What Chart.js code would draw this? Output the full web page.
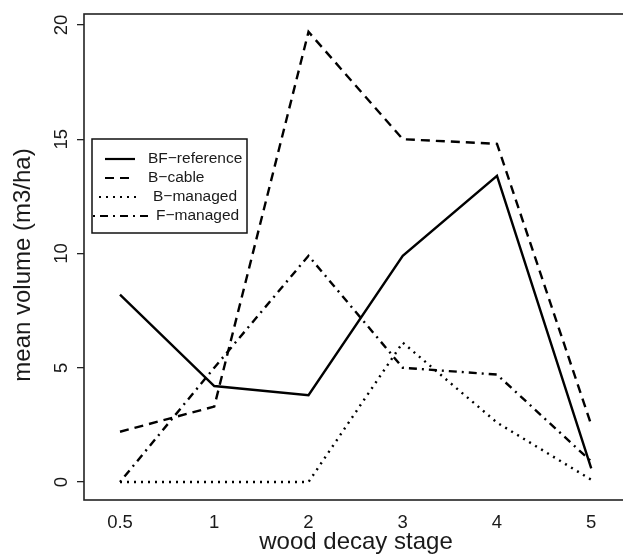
<!DOCTYPE html>
<html>
<head>
<meta charset="utf-8">
<script src="https://cdn.jsdelivr.net/npm/chart.js@4"></script>
<style>
  html, body { margin: 0; padding: 0; background: #fff; }
  #wrap { width: 623px; height: 557px; overflow: hidden; position: relative; }
  #chart { display: block; }
</style>
</head>
<body>
<div id="wrap"><canvas id="chart" width="628" height="557"></canvas></div>
<script>
  const categories = ["0.5", "1", "2", "3", "4", "5"];
  const yTicks = [0, 5, 10, 15, 20];

  const bfReference = [8.2, 4.2, 3.8, 9.9, 13.4, 0.6];
  const bCable = [2.2, 3.3, 19.7, 15.0, 14.8, 2.5];
  const bManaged = [0, 0, 0, 6.1, 2.6, 0.1];
  const fManaged = [0, 5.0, 9.9, 5.0, 4.7, 0.9];

  const FONT = "'Liberation Sans', Arial, Helvetica, sans-serif";
  const INK = "#1a1a1a";

  function toPoints(values) {
    return values.map((v, i) => ({ x: i, y: v }));
  }

  function lineSet(label, values, dash) {
    return {
      label,
      data: toPoints(values),
      borderColor: "#000",
      borderWidth: 2.4,
      borderDash: dash,
      borderCapStyle: "butt",
      pointRadius: 0,
      tension: 0,
      fill: false,
    };
  }

  // frame, rotated y labels + title (R style) and the boxed legend
  const rStylePlugin = {
    id: "rStyle",
    afterDraw(chart) {
      const { ctx, chartArea, scales } = chart;
      ctx.save();
      ctx.strokeStyle = "#222";
      ctx.lineWidth = 1.6;
      ctx.setLineDash([]);
      ctx.strokeRect(chartArea.left, chartArea.top, chartArea.right - chartArea.left, chartArea.bottom - chartArea.top);

      ctx.fillStyle = INK;
      ctx.font = `18.5px ${FONT}`;
      ctx.textAlign = "center";
      ctx.textBaseline = "alphabetic";
      yTicks.forEach((t) => {
        const y = scales.y.getPixelForValue(t);
        ctx.save();
        ctx.translate(67, y);
        ctx.rotate(-Math.PI / 2);
        ctx.fillText(String(t), 0, 0);
        ctx.restore();
      });

      ctx.font = `24px ${FONT}`;
      ctx.textBaseline = "middle";
      ctx.save();
      ctx.translate(23, 265);
      ctx.rotate(-Math.PI / 2);
      ctx.fillText("mean volume (m3/ha)", 0, 0);
      ctx.restore();

      // legend
      const box = { x: 92, y: 139, w: 155, h: 94 };
      ctx.fillStyle = "#fff";
      ctx.fillRect(box.x, box.y, box.w, box.h);
      ctx.lineWidth = 1.5;
      ctx.strokeStyle = "#111";
      ctx.strokeRect(box.x, box.y, box.w, box.h);

      const rows = [
        { y: 159, x0: 105, x1: 135, tx: 148 },
        { y: 178, x0: 105, x1: 133, tx: 148 },
        { y: 197, x0: 99, x1: 138, tx: 153 },
        { y: 216, x0: 93, x1: 148, tx: 156 },
      ];
      ctx.font = `15.5px ${FONT}`;
      ctx.textAlign = "left";
      ctx.textBaseline = "middle";
      chart.data.datasets.forEach((ds, i) => {
        const r = rows[i];
        ctx.strokeStyle = "#000";
        ctx.lineWidth = 2.2;
        ctx.setLineDash(ds.borderDash || []);
        ctx.beginPath();
        ctx.moveTo(r.x0, r.y);
        ctx.lineTo(r.x1, r.y);
        ctx.stroke();
        ctx.setLineDash([]);
        ctx.fillStyle = INK;
        ctx.fillText(ds.label, r.tx, r.y);
      });
      ctx.restore();
    },
  };

  const chart = new Chart(document.getElementById("chart"), {
    type: "line",
    data: {
      datasets: [
        lineSet("BF\u2212reference", bfReference, []),
        lineSet("B\u2212cable", bCable, [9, 6]),
        lineSet("B\u2212managed", bManaged, [2, 5]),
        lineSet("F\u2212managed", fManaged, [2, 5, 8, 5]),
      ],
    },
    options: {
      responsive: false,
      animation: false,
      devicePixelRatio: 1,
      layout: { padding: { top: 14, left: 0, right: 0, bottom: 0 } },
      plugins: { legend: { display: false }, tooltip: { enabled: false } },
      scales: {
        x: {
          type: "linear",
          min: -0.382,
          max: 5.39,
          afterFit(scale) { scale.height = 57; },
          afterBuildTicks(scale) { scale.ticks = categories.map((c, i) => ({ value: i })); },
          grid: { display: false },
          border: { display: false },
          ticks: {
            color: INK,
            font: { family: FONT, size: 18.5 },
            padding: 4,
            maxRotation: 0,
            autoSkip: false,
            callback: (v) => categories[v],
          },
          title: {
            display: true,
            text: "wood decay stage",
            color: INK,
            font: { family: FONT, size: 24 },
            padding: { top: 0, bottom: 0 },
          },
        },
        y: {
          min: -0.788,
          max: 20.48,
          afterFit(scale) { scale.width = 84; },
          afterBuildTicks(scale) { scale.ticks = yTicks.map((v) => ({ value: v })); },
          grid: {
            drawOnChartArea: false,
            drawTicks: true,
            tickLength: 7,
            color: "#222",
            lineWidth: 1.3,
          },
          border: { display: false },
          ticks: { display: false },
          title: { display: false },
        },
      },
    },
    plugins: [rStylePlugin],
  });
</script>
</body>
</html>
